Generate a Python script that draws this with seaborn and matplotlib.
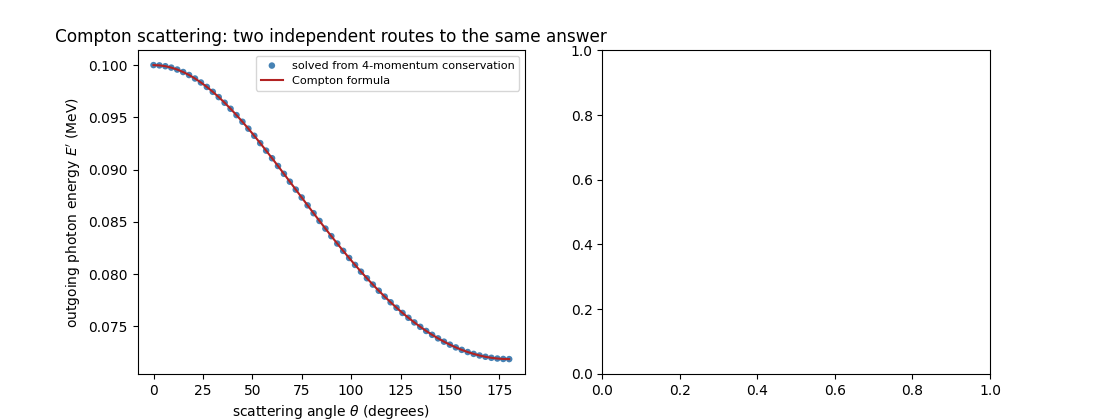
import matplotlib
matplotlib.use("Agg")
import matplotlib.pyplot as plt
import seaborn as sns
import pandas as pd

theta_deg = list(range(0, 181, 3))
energy_mev = [
    0.100000, 0.099973, 0.099893, 0.099760, 0.099574, 0.099338, 0.099051,
    0.098717, 0.098336, 0.097912, 0.097445, 0.096939, 0.096397, 0.095821,
    0.095214, 0.094579, 0.093919, 0.093237, 0.092535, 0.091817, 0.091088,
    0.090347, 0.089598, 0.088844, 0.088088, 0.087333, 0.086580, 0.085831,
    0.085089, 0.084355, 0.083633, 0.082923, 0.082226, 0.081545, 0.080881,
    0.080235, 0.079607, 0.078999, 0.078413, 0.077848, 0.077307, 0.076785,
    0.076289, 0.075823, 0.075379, 0.074958, 0.074563, 0.074194, 0.073854,
    0.073538, 0.073251, 0.072989, 0.072754, 0.072547, 0.072368, 0.072216,
    0.072092, 0.071995, 0.071925, 0.071884, 0.071870,
]

df = pd.DataFrame({"theta": theta_deg, "E": energy_mev})

fig, axes = plt.subplots(1, 2, figsize=(11, 4.2), dpi=100)
ax = axes[0]
sns.scatterplot(data=df, x="theta", y="E", ax=ax, s=22, color="#4682b4",
                edgecolor="none", label="solved from 4-momentum conservation", zorder=2)
sns.lineplot(data=df, x="theta", y="E", ax=ax, color="#b22222", linewidth=1.5,
             label="Compton formula", zorder=3)
ax.set_xlim(-8.1, 188)
ax.set_xlabel(r"scattering angle $\theta$ (degrees)")
ax.set_ylabel(r"outgoing photon energy $E'$ (MeV)")
ax.set_title("Compton scattering: two independent routes to the same answer", fontsize=12.2)
ax.legend(fontsize=8.1, loc="upper right")

fig.savefig("out.png", dpi=100)
